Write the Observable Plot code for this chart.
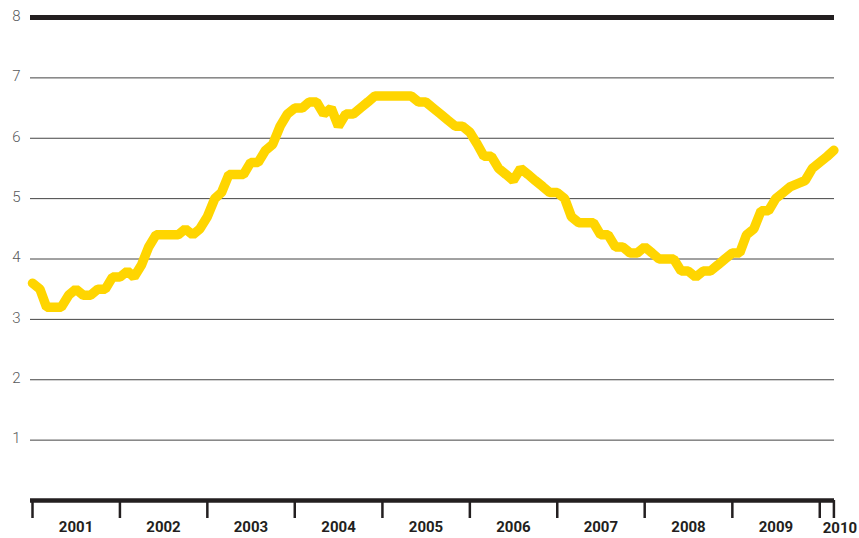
<!DOCTYPE html>
<html>
<head>
<meta charset="utf-8">
<script src="https://cdn.jsdelivr.net/npm/d3@7"></script>
<script src="https://cdn.jsdelivr.net/npm/@observablehq/plot@0.6"></script>
<style>
  html, body { margin: 0; padding: 0; background: #fff; }
</style>
</head>
<body>
<div id="chart"></div>
<script>
// Monthly series, January 2001 to March 2010
const startYear = 2001;
const values = [
  // 2001
  3.6, 3.5, 3.2, 3.2, 3.2, 3.4, 3.5, 3.4, 3.4, 3.5, 3.5, 3.7,
  // 2002
  3.7, 3.8, 3.7, 3.9, 4.2, 4.4, 4.4, 4.4, 4.4, 4.5, 4.4, 4.5,
  // 2003
  4.7, 5.0, 5.1, 5.4, 5.4, 5.4, 5.6, 5.6, 5.8, 5.9, 6.2, 6.4,
  // 2004
  6.5, 6.5, 6.6, 6.6, 6.4, 6.5, 6.2, 6.4, 6.4, 6.5, 6.6, 6.7,
  // 2005
  6.7, 6.7, 6.7, 6.7, 6.7, 6.6, 6.6, 6.5, 6.4, 6.3, 6.2, 6.2,
  // 2006
  6.1, 5.9, 5.7, 5.7, 5.5, 5.4, 5.3, 5.5, 5.4, 5.3, 5.2, 5.1,
  // 2007
  5.1, 5.0, 4.7, 4.6, 4.6, 4.6, 4.4, 4.4, 4.2, 4.2, 4.1, 4.1,
  // 2008
  4.2, 4.1, 4.0, 4.0, 4.0, 3.8, 3.8, 3.7, 3.8, 3.8, 3.9, 4.0,
  // 2009
  4.1, 4.1, 4.4, 4.5, 4.8, 4.8, 5.0, 5.1, 5.2, 5.25, 5.3, 5.5,
  // 2010
  5.6, 5.7, 5.8
];
const yearLabels = ["2001", "2002", "2003", "2004", "2005", "2006", "2007", "2008", "2009"];
const lastYearLabel = "2010";
const gridValues = [1, 2, 3, 4, 5, 6, 7];
const yTickValues = [1, 2, 3, 4, 5, 6, 7, 8];

const data = values.map((v, i) => ({date: new Date(Date.UTC(startYear, i, 1)), value: v}));
const domainStart = new Date(Date.UTC(startYear, 0, 1));
const domainEnd = data[data.length - 1].date;
const yearTicks = d3.utcYears(domainStart, domainEnd).concat([domainEnd]);
const yearMids = yearLabels.map(y => ({label: y, date: new Date(Date.UTC(+y, 6, 2))}));
const lastYear = [{label: lastYearLabel, date: new Date(Date.UTC(+lastYearLabel, 0, 1))}];

const ink = "#231f20";

const chart = Plot.plot({
  width: 859,
  height: 538,
  marginTop: 17,
  marginBottom: 38,
  marginLeft: 32,
  marginRight: 25.6,
  style: {fontFamily: "Roboto, 'Open Sans', sans-serif", background: "#fff"},
  x: {type: "utc", domain: [domainStart, domainEnd]},
  y: {domain: [0, 8]},
  marks: [
    Plot.ruleY(gridValues, {stroke: "#444", strokeWidth: 1, insetLeft: -2, insetRight: -0.6}),
    Plot.ruleY([8], {stroke: ink, strokeWidth: 5, insetLeft: -2, insetRight: -0.6}),
    Plot.axisY({ticks: yTickValues, label: null, tickSize: 0, tickPadding: 12, fontSize: 15, fontWeight: 300, fill: "#58595b", dy: -1.5, tickFormat: d => String(d)}),
    Plot.axisX({ticks: yearTicks, label: null, tickSize: 18, strokeWidth: 2.5, stroke: ink, fill: "none"}),
    Plot.ruleY([0], {stroke: ink, strokeWidth: 4.6, insetLeft: -2, insetRight: -0.6}),
    Plot.text(yearMids, {x: "date", text: "label", frameAnchor: "bottom", dy: 31, fontSize: 15, fontWeight: "bold", fill: ink}),
    Plot.text(lastYear, {x: "date", text: "label", frameAnchor: "bottom", dy: 32, dx: 3, textAnchor: "start", fontSize: 15, fontWeight: "bold", fill: ink}),
    Plot.line(data, {x: "date", y: "value", stroke: "#ffd500", strokeWidth: 9.5, strokeLinejoin: "miter", strokeLinecap: "round"})
  ]
});
document.getElementById("chart").append(chart);
</script>
</body>
</html>
